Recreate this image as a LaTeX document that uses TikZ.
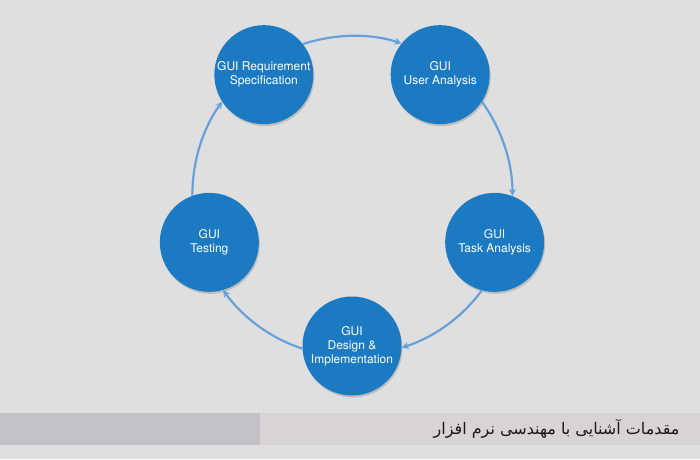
\documentclass[tikz,border=0pt]{standalone}
\usepackage{fontspec}
\setmainfont{TeX Gyre Heros}
\newfontfamily\persianfont[Script=Arabic]{DejaVu Sans}
\TeXXeTstate=1
\usetikzlibrary{arrows.meta,shadows}
\definecolor{gui-blue}{RGB}{28,122,194}
\definecolor{gui-arrow}{RGB}{104,160,218}
\definecolor{gui-bg}{RGB}{223,223,223}
\definecolor{band-dark}{RGB}{193,193,198}
\definecolor{band-light}{RGB}{214,212,212}

\begin{document}
\begin{tikzpicture}[x=1pt, y=1pt,
    phase/.style={circle, fill=gui-blue, minimum size=99pt, inner sep=0pt,
        text=white, align=center, font=\fontsize{12}{14}\selectfont,
        drop shadow={shadow xshift=1pt, shadow yshift=-2pt, opacity=0.35}},
    flow/.style={gui-arrow, line width=2.2pt, looseness=0.87,
        -{Stealth[length=7pt, width=7pt]}}]

    % background and bottom band
    \useasboundingbox (-352,-263) rectangle (348,196);
    \fill[gui-bg] (-352,-263) rectangle (348,196);
    \fill[band-dark] (-352,-249) rectangle (-92,-217);
    \fill[band-light] (-92,-249) rectangle (348,-217);

    % phases of the cycle
    \node[phase] (req)  at (126:150) {GUI Requirement\\Specification};
    \node[phase] (user) at (54:150)  {GUI\\User Analysis};
    \node[phase] (task) at (-18:150) {GUI\\Task Analysis};
    \node[phase] (des)  at (-90:150) {GUI\\Design \&\\Implementation};
    \node[phase] (test) at (198:150) {GUI\\Testing};

    % arrows round the cycle
    \draw[flow] (req.38.5)   to[out=18,  in=162] (user.141.5);
    \draw[flow] (user.-33.5) to[out=-54, in=90]  (task.69.5);
    \draw[flow] (task.-105.5) to[out=-126, in=18] (des.-2.5);
    \draw[flow] (des.-177.5) to[out=162, in=-54] (test.-74.5);
    \draw[flow] (test.110.5) to[out=90,  in=234] (req.213.5);

    % caption
    \node[anchor=east, text=black!90,
        font=\persianfont\fontsize{16}{19}\selectfont] (caption) at (331,-233)
        {\beginR مقدمات آشنایی با مهندسی نرم افزار\endR};

\end{tikzpicture}
\end{document}
